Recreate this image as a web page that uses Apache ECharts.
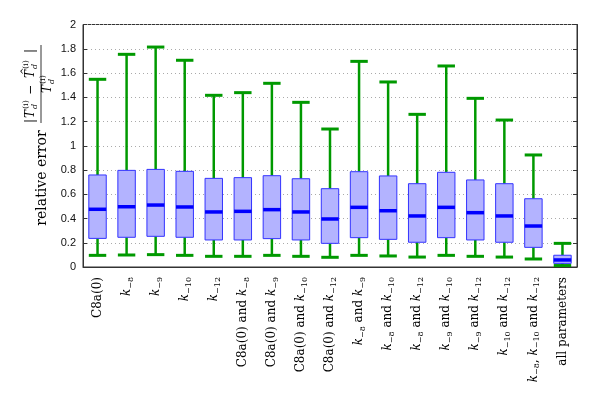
<!DOCTYPE html>
<html>
<head>
<meta charset="utf-8">
<script src="https://cdn.jsdelivr.net/npm/echarts@6/dist/echarts.min.js"></script>
<style>html,body{margin:0;padding:0;background:#fff;}#c{width:600px;height:400px;}</style>
</head>
<body>
<div id="c"></div>
<script>
const categories = ['C8a(0)', 'k-8', 'k-9', 'k-10', 'k-12', 'C8a(0) and k-8', 'C8a(0) and k-9', 'C8a(0) and k-10', 'C8a(0) and k-12', 'k-8 and k-9', 'k-8 and k-10', 'k-8 and k-12', 'k-9 and k-10', 'k-9 and k-12', 'k-10 and k-12', 'k-8, k-10 and k-12', 'all parameters'];
const whiskerLow  = [0.096, 0.099, 0.102, 0.096, 0.088, 0.088, 0.096, 0.088, 0.080, 0.096, 0.091, 0.082, 0.096, 0.088, 0.082, 0.066, 0.012];
const q1          = [0.236, 0.245, 0.253, 0.245, 0.223, 0.223, 0.234, 0.223, 0.195, 0.242, 0.228, 0.204, 0.242, 0.223, 0.204, 0.162, 0.030];
const median      = [0.476, 0.497, 0.511, 0.495, 0.454, 0.459, 0.473, 0.454, 0.396, 0.492, 0.464, 0.421, 0.492, 0.448, 0.421, 0.338, 0.058];
const q3          = [0.759, 0.797, 0.805, 0.789, 0.731, 0.737, 0.753, 0.728, 0.646, 0.786, 0.751, 0.687, 0.781, 0.718, 0.687, 0.563, 0.097];
const whiskerHigh = [1.548, 1.754, 1.814, 1.705, 1.416, 1.438, 1.515, 1.358, 1.138, 1.696, 1.526, 1.259, 1.658, 1.391, 1.212, 0.924, 0.195];
const yTicks = { min: 0, max: 2, interval: 0.2 };

const data = categories.map((c, i) => [i, whiskerLow[i], q1[i], median[i], q3[i], whiskerHigh[i]]);

const SERIF = '"DejaVu Serif", "Liberation Serif", serif';
const GREEN = '#009900';

function labelFmt(v) {
  const parts = v.split(/(k-\d+)/);
  return parts.map(p => {
    const m = p.match(/^k-(\d+)$/);
    if (m) return '{k|k}{s|\u2212' + m[1] + '}';
    return p ? '{n|' + p + '}' : '';
  }).join('');
}

// helper for T_d^(i) pieces in local coordinates
function tdi(x, y, hat) {
  const arr = [
    { type: 'text', x: x, y: y, style: { text: 'T', font: 'italic 12px ' + SERIF, fill: '#000', verticalAlign: 'middle' } },
    { type: 'text', x: x + 9, y: y - 5, style: { text: '(i)', font: '8px ' + SERIF, fill: '#000', verticalAlign: 'middle' } },
    { type: 'text', x: x + 9, y: y + 4, style: { text: 'd', font: 'italic 8px ' + SERIF, fill: '#000', verticalAlign: 'middle' } }
  ];
  if (hat) arr.push({ type: 'text', x: x + 3, y: y - 6, style: { text: '^', font: '9px ' + SERIF, fill: '#000', verticalAlign: 'middle' } });
  return arr;
}

const chart = echarts.init(document.getElementById('c'), null, { renderer: 'canvas' });
chart.setOption({
  animation: false,
  backgroundColor: '#fff',
  grid: { left: 83, right: 23, top: 24.5, bottom: 133, show: true, borderColor: '#333', borderWidth: 1, containLabel: false },
  xAxis: {
    type: 'category',
    data: categories,
    boundaryGap: true,
    axisLine: { show: true, lineStyle: { color: '#333', width: 1 } },
    axisTick: { show: false },
    axisLabel: {
      interval: 0, rotate: 90, margin: 10, color: '#000',
      fontFamily: SERIF, fontSize: 12,
      formatter: labelFmt,
      rich: {
        n: { fontFamily: SERIF, fontSize: 12, color: '#000' },
        k: { fontFamily: SERIF, fontSize: 12, fontStyle: 'italic', color: '#000' },
        s: { fontFamily: SERIF, fontSize: 8, color: '#000', padding: [8, 0, 0, 0] }
      }
    },
    splitLine: { show: false }
  },
  yAxis: [{
    type: 'value', min: yTicks.min, max: yTicks.max, interval: yTicks.interval,
    axisLine: { show: true, lineStyle: { color: '#333', width: 1 } },
    axisTick: { show: true, inside: true, length: 4, lineStyle: { color: '#333' } },
    axisLabel: { color: '#111', fontFamily: '"Liberation Sans", Arial, sans-serif', fontSize: 11, margin: 7,
      formatter: v => String(Math.round(v * 10) / 10) },
    splitLine: { show: true, lineStyle: { color: '#aaa', type: [1, 3], width: 1 } }
  }, {
    type: 'value', position: 'right', min: yTicks.min, max: yTicks.max, interval: yTicks.interval,
    axisLine: { show: true, lineStyle: { color: '#333', width: 1 } },
    axisTick: { show: true, inside: true, length: 4, lineStyle: { color: '#333' } },
    axisLabel: { show: false },
    splitLine: { show: false }
  }],
  graphic: [
    {
      type: 'text', x: 42, y: 178, rotation: Math.PI / 2,
      style: { text: 'relative error', font: '14px ' + SERIF, fill: '#000', align: 'center', verticalAlign: 'middle' }
    },
    {
      type: 'group', x: 41, y: 83, rotation: Math.PI / 2,
      children: [
        { type: 'text', x: -40, y: -10, style: { text: '|', font: '12px ' + SERIF, fill: '#000', verticalAlign: 'middle' } },
        ...tdi(-35, -10, false),
        { type: 'text', x: -12, y: -10, style: { text: '\u2212', font: '12px ' + SERIF, fill: '#000', verticalAlign: 'middle' } },
        ...tdi(5, -10, true),
        { type: 'text', x: 30, y: -10, style: { text: '|', font: '12px ' + SERIF, fill: '#000', verticalAlign: 'middle' } },
        { type: 'line', shape: { x1: -40, y1: 0, x2: 38, y2: 0 }, style: { stroke: '#000', lineWidth: 0.8 } },
        ...tdi(-10, 7, false)
      ]
    }
  ],
  series: [{
    type: 'custom',
    data: data,
    encode: { x: 0, y: [1, 2, 3, 4, 5] },
    clip: false,
    renderItem: function (params, api) {
      const i = api.value(0);
      const cx = api.coord([i, 0])[0];
      const yLo = api.coord([i, api.value(1)])[1];
      const yQ1 = api.coord([i, api.value(2)])[1];
      const yMed = api.coord([i, api.value(3)])[1];
      const yQ3 = api.coord([i, api.value(4)])[1];
      const yHi = api.coord([i, api.value(5)])[1];
      const w = api.size([1, 0])[0] * 0.6;
      const half = w / 2;
      return {
        type: 'group',
        children: [
          { type: 'line', shape: { x1: cx, y1: yHi, x2: cx, y2: yQ3 }, style: { stroke: GREEN, lineWidth: 2.5 } },
          { type: 'line', shape: { x1: cx, y1: yQ1, x2: cx, y2: yLo }, style: { stroke: GREEN, lineWidth: 2.5 } },
          { type: 'line', shape: { x1: cx - half, y1: yHi, x2: cx + half, y2: yHi }, style: { stroke: GREEN, lineWidth: 3 } },
          { type: 'line', shape: { x1: cx - half, y1: yLo, x2: cx + half, y2: yLo }, style: { stroke: GREEN, lineWidth: 3 } },
          { type: 'rect', shape: { x: cx - half, y: yQ3, width: w, height: yQ1 - yQ3 }, style: { fill: '#b3b3ff', stroke: '#3333ff', lineWidth: 1 } },
          { type: 'line', shape: { x1: cx - half, y1: yMed, x2: cx + half, y2: yMed }, style: { stroke: '#0000ff', lineWidth: 3.5 } }
        ]
      };
    }
  }]
});
</script>
</body>
</html>
